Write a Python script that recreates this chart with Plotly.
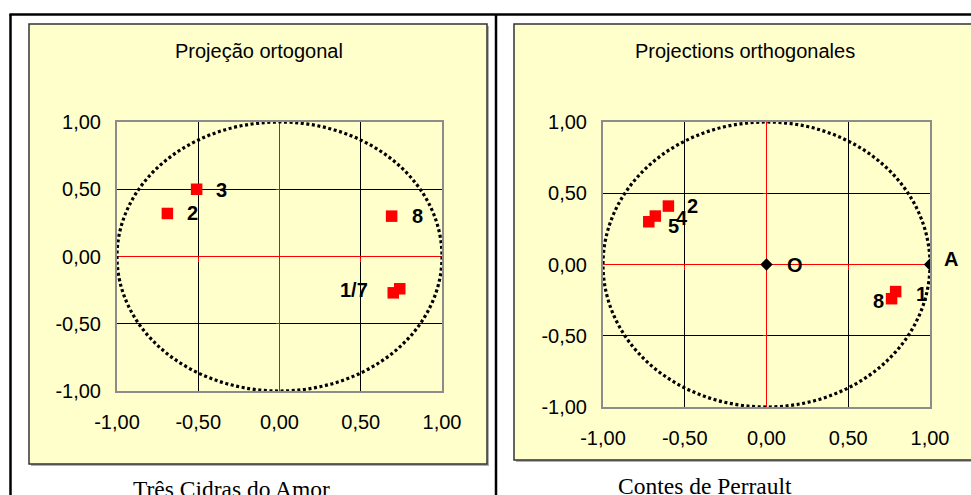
import plotly.graph_objects as go

W, H = 971, 495

# ---------------- data ----------------
tick_vals = [-1.0, -0.5, 0.0, 0.5, 1.0]
tick_text = ["-1,00", "-0,50", "0,00", "0,50", "1,00"]

left_title = "Projeção ortogonal"
left_caption = "Três Cidras do Amor"
left_x = [0.70, 0.74, -0.69, -0.51, 0.69]
left_y = [-0.27, -0.24, 0.32, 0.50, 0.30]
left_text = ["1/7", "", "2", "3", "8"]

right_title = "Projections orthogonales"
right_caption = "Contes de Perrault"
right_x = [0.79, 0.765, -0.60, -0.68, -0.72]
right_y = [-0.19, -0.24, 0.41, 0.34, 0.30]
right_text = ["1", "8", "2", "4", "5"]

ref_x = [0.0, 1.0]
ref_y = [0.0, 0.0]
ref_text = ["O", "A"]

# ---------------- styling / layout helpers ----------------
def px(x):
    return x / W

def py(y):
    return 1 - y / H

SANS = "Liberation Sans, Arial, sans-serif"
SERIF = "Liberation Serif, Times New Roman, serif"
YELLOW = "#FFFFCC"

left_dom_x = [px(117), px(442)]
left_dom_y = [py(391), py(122)]
right_dom_x = [px(603), px(930)]
right_dom_y = [py(407), py(122)]

# label placement (xanchor, xshift, yshift) per point
left_label_pos = [("right", -24, 2.5), ("left", 0, 0), ("left", 19, 0), ("left", 18, -1), ("left", 19, 0)]
right_label_pos = [("left", 19, -2.5), ("right", -7, -2.5), ("left", 18, 0), ("left", 20, -1.5), ("left", 18, -4)]
ref_label_pos = [("left", 19, 0), ("left", 13, 6)]

fig = go.Figure()

# data traces
fig.add_trace(go.Scatter(x=left_x, y=left_y, mode="markers", xaxis="x", yaxis="y",
                         marker=dict(symbol="square", size=11.5, color="#FF0000", line=dict(width=0)),
                         hoverinfo="skip", showlegend=False))
fig.add_trace(go.Scatter(x=right_x, y=right_y, mode="markers", xaxis="x2", yaxis="y2",
                         marker=dict(symbol="square", size=11.5, color="#FF0000", line=dict(width=0)),
                         hoverinfo="skip", showlegend=False))
fig.add_trace(go.Scatter(x=ref_x, y=ref_y, mode="markers", xaxis="x2", yaxis="y2",
                         marker=dict(symbol="diamond", size=9.5, color="#000000", line=dict(width=0)),
                         hoverinfo="skip", showlegend=False))
# dummy traces to create overlay subplots for the red axis tick marks
fig.add_trace(go.Scatter(x=[0], y=[0], mode="markers", xaxis="x3", yaxis="y3",
                         marker=dict(size=1, opacity=0), hoverinfo="skip", showlegend=False))
fig.add_trace(go.Scatter(x=[0], y=[0], mode="markers", xaxis="x4", yaxis="y4",
                         marker=dict(size=1, opacity=0), hoverinfo="skip", showlegend=False))

def main_x(domain, anchor):
    return dict(domain=domain, anchor=anchor, range=[-1, 1], tickmode="array",
                tickvals=tick_vals, ticktext=tick_text, ticks="", showgrid=True,
                gridcolor="#000000", gridwidth=1, zeroline=True, zerolinecolor="#FF0000",
                zerolinewidth=1, showline=True, mirror=True, linecolor="#8C8C8C", linewidth=2,
                tickfont=dict(family=SANS, size=20, color="#000000"), ticklabelstandoff=12,
                automargin=False, fixedrange=True)

def main_y(domain, anchor):
    d = main_x(domain, anchor)
    d["ticklabelstandoff"] = 10
    return d

def overlay_x(over, pos):
    return dict(overlaying=over, anchor="free", position=pos, range=[-1, 1],
                tickmode="array", tickvals=[-0.5, 0.5], ticks="outside", ticklen=4,
                tickcolor="#FF0000", tickwidth=1, showticklabels=False, showgrid=False,
                zeroline=False, showline=False, automargin=False, fixedrange=True)

fig.update_layout(
    width=W, height=H, autosize=False,
    margin=dict(l=0, r=0, t=0, b=0, pad=0, autoexpand=False),
    paper_bgcolor="#FFFFFF", plot_bgcolor="#FFFFFF",
    showlegend=False, hovermode=False,
    xaxis=main_x(left_dom_x, "y"),
    yaxis=main_y(left_dom_y, "x"),
    xaxis2=main_x(right_dom_x, "y2"),
    yaxis2=main_y(right_dom_y, "x2"),
    xaxis3=overlay_x("x", (left_dom_y[0] + left_dom_y[1]) / 2),
    yaxis3=overlay_x("y", (left_dom_x[0] + left_dom_x[1]) / 2),
    xaxis4=overlay_x("x2", (right_dom_y[0] + right_dom_y[1]) / 2),
    yaxis4=overlay_x("y2", (right_dom_x[0] + right_dom_x[1]) / 2),
)

shapes = []
# table borders
shapes.append(dict(type="line", xref="paper", yref="paper", x0=px(9.5), x1=px(975), y0=py(14.5), y1=py(14.5),
                   line=dict(color="#000000", width=2.5), layer="below"))
shapes.append(dict(type="line", xref="paper", yref="paper", x0=px(10.5), x1=px(10.5), y0=py(14), y1=py(500),
                   line=dict(color="#000000", width=2.5), layer="below"))
shapes.append(dict(type="line", xref="paper", yref="paper", x0=px(496), x1=px(496), y0=py(14), y1=py(500),
                   line=dict(color="#000000", width=2.5), layer="below"))
# chart areas (shadow + box)
for x0, x1, y0, y1 in [(29, 487, 24, 464), (514, 990, 24, 460)]:
    shapes.append(dict(type="rect", xref="paper", yref="paper", x0=px(x0 + 2), x1=px(x1 + 2),
                       y0=py(y1 + 2), y1=py(y0 + 2), line=dict(width=0), fillcolor="#B0B0B0", layer="below"))
    shapes.append(dict(type="rect", xref="paper", yref="paper", x0=px(x0), x1=px(x1),
                       y0=py(y1), y1=py(y0), line=dict(color="#333333", width=1.5), fillcolor=YELLOW,
                       layer="below"))
# unit circles (dotted)
for xr, yr in [("x", "y"), ("x2", "y2")]:
    shapes.append(dict(type="circle", xref=xr, yref=yr, x0=-1, x1=1, y0=-1, y1=1,
                       line=dict(color="#000000", width=3.2, dash="3px,2.6px"), layer="above"))
fig.update_layout(shapes=shapes)

annotations = []
# titles
annotations.append(dict(text=left_title, xref="paper", yref="paper", x=px(259), y=py(51),
                        xanchor="center", yanchor="middle", showarrow=False,
                        font=dict(family=SANS, size=20, color="#000000")))
annotations.append(dict(text=right_title, xref="paper", yref="paper", x=px(745), y=py(51),
                        xanchor="center", yanchor="middle", showarrow=False,
                        font=dict(family=SANS, size=20, color="#000000")))
# captions
annotations.append(dict(text=left_caption, xref="paper", yref="paper", x=px(231), y=py(489),
                        xanchor="center", yanchor="middle", showarrow=False,
                        font=dict(family=SERIF, size=23.5, color="#000000")))
annotations.append(dict(text=right_caption, xref="paper", yref="paper", x=px(705), y=py(486),
                        xanchor="center", yanchor="middle", showarrow=False,
                        font=dict(family=SERIF, size=23.5, color="#000000")))

def add_labels(xs, ys, texts, pos, xr, yr):
    for x, y, t, (anc, dx, dy) in zip(xs, ys, texts, pos):
        if not t:
            continue
        annotations.append(dict(text="<b>%s</b>" % t, xref=xr, yref=yr, x=x, y=y,
                                xanchor=anc, yanchor="middle", xshift=dx, yshift=dy,
                                showarrow=False, borderpad=0,
                                font=dict(family=SANS, size=20, color="#000000")))

add_labels(left_x, left_y, left_text, left_label_pos, "x", "y")
add_labels(right_x, right_y, right_text, right_label_pos, "x2", "y2")
add_labels(ref_x, ref_y, ref_text, ref_label_pos, "x2", "y2")
fig.update_layout(annotations=annotations)

fig.write_html("out.html", config={"displayModeBar": False, "staticPlot": True},
               post_script="document.body.style.margin='0';document.body.style.overflow='hidden';")
